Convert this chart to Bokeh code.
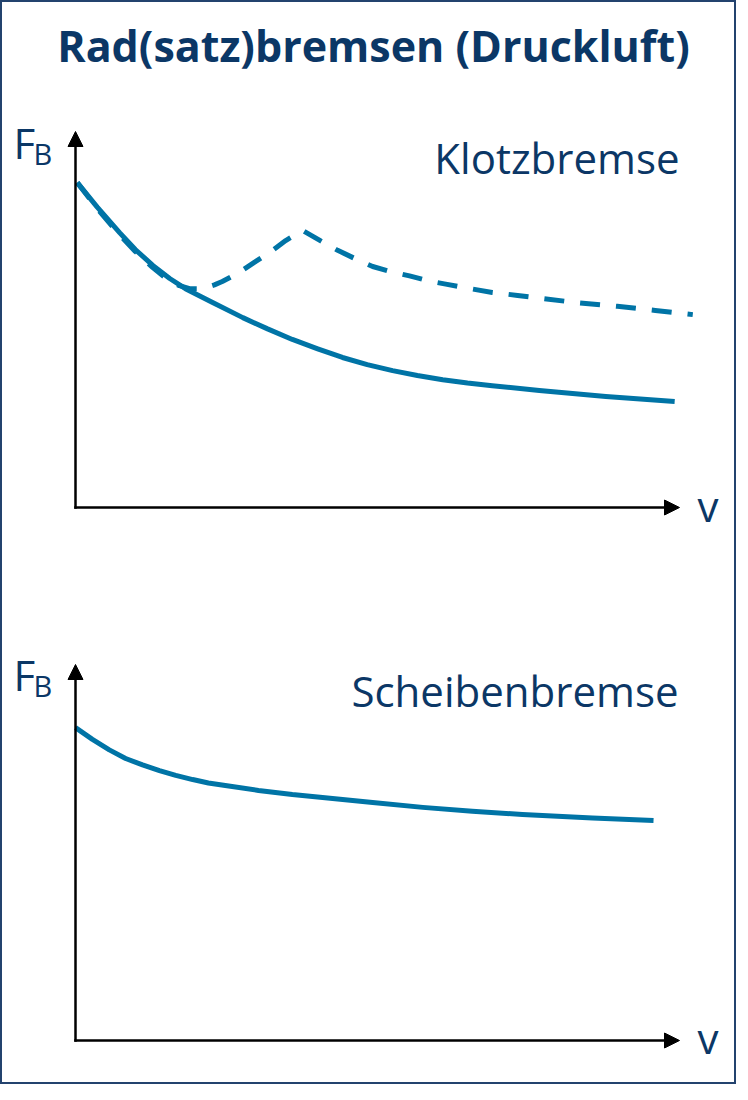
from bokeh.plotting import figure
from bokeh.models import Range1d, Arrow, NormalHead, Label
from bokeh.embed import file_html
from bokeh.resources import INLINE

# ---------------- data ----------------
TITLE = "Rad(satz)bremsen (Druckluft)"
Y_LABEL_MAIN = "F"
Y_LABEL_SUB = "B"
X_LABEL = "v"
PANEL1_NAME = "Klotzbremse"
PANEL2_NAME = "Scheibenbremse"

AXIS_MAX_V = 100
AXIS_MAX_F = 100

# Klotzbremse, solid curve
klotz_solid_v = [0.3, 3.6, 7.3, 9.9, 12.8, 15.6, 18.2, 22.7, 27.7, 31.8, 35.9, 40.1, 44.2,
                 48.3, 52.5, 56.6, 60.8, 64.9, 69.0, 76.8, 87.8, 99.2]
klotz_solid_F = [86.4, 79.9, 73.1, 68.6, 64.4, 60.9, 58.2, 54.5, 50.5, 47.5, 44.7, 42.2, 39.9,
                 38.0, 36.4, 35.1, 34.0, 33.1, 32.4, 31.1, 29.5, 28.2]

# Klotzbremse, dashed curve
klotz_dashed_v = [0.3, 3.6, 7.3, 9.9, 12.8, 15.6, 17.2, 18.9, 21.0, 23.0, 24.3, 27.0, 29.6, 32.3,
                  34.8, 37.6, 40.6, 43.4, 46.4, 49.2, 52.5, 55.3, 58.6, 61.3, 64.6, 69.0, 73.2,
                  77.3, 83.4, 89.7, 96.0, 102.2]
klotz_dashed_F = [86.4, 79.5, 72.5, 68.1, 63.8, 60.2, 59.0, 58.2, 58.2, 59.2, 60.1, 62.4, 65.2, 68.0,
                  71.0, 73.7, 70.9, 68.4, 66.1, 64.1, 62.6, 61.6, 60.2, 59.4, 58.4, 57.2, 56.4,
                  55.6, 54.4, 53.5, 52.4, 51.3]

# Scheibenbremse
scheibe_v = [0, 2.8, 5.6, 8.3, 11.1, 13.9, 16.6, 19.4, 22.0, 24.8, 30.3, 35.9, 40.9, 49.2,
             57.5, 65.7, 74.0, 85.6, 95.7]
scheibe_F = [83.2, 80.1, 77.3, 75.0, 73.3, 71.8, 70.5, 69.4, 68.5, 67.8, 66.5, 65.4, 64.6, 63.3,
             62.0, 61.0, 60.1, 59.2, 58.5]

# ---------------- layout ----------------
W, H = 736, 1084
PAGE = 8                 # page margin
ORIGIN_X = 75            # screen px of v = 0
PX_V = 6.04              # px per v unit
P1_ORIGIN_Y = 507        # screen px (from top) of F = 0, panel 1
P2_ORIGIN_Y = 1040       # screen px (from top) of F = 0, panel 2
PX_F = 3.76              # px per F unit
LABEL_DY = 18            # correction for text placement

NAVY = "#0b3766"
CURVE = "#0074a6"
FONT = "Open Sans"


def lx(page_x):
    return (page_x - PAGE - ORIGIN_X) / PX_V


def ly1(page_y):
    return (P1_ORIGIN_Y - (page_y - LABEL_DY - PAGE)) / PX_F


def ly2(page_y):
    return (P2_ORIGIN_Y - (page_y - LABEL_DY - PAGE)) / PX_F


p = figure(
    width=W, height=H,
    x_range=Range1d(-ORIGIN_X / PX_V, (W - ORIGIN_X) / PX_V),
    y_range=Range1d((P1_ORIGIN_Y - H) / PX_F, P1_ORIGIN_Y / PX_F),
    output_backend="svg", toolbar_location=None,
    x_axis_location=None, y_axis_location=None,
    min_border=0,
)
p.extra_y_ranges = {"p2": Range1d((P2_ORIGIN_Y - H) / PX_F, P2_ORIGIN_Y / PX_F)}
p.grid.visible = False
p.outline_line_color = "#23436e"
p.outline_line_width = 3
p.background_fill_color = "white"
p.border_fill_color = "white"

# axes with arrows
for rng in ("default", "p2"):
    p.add_layout(Arrow(x_start=0, y_start=0, x_end=AXIS_MAX_V, y_end=0,
                       line_width=2.5, line_color="black", line_cap="square",
                       end=NormalHead(size=15, fill_color="black", line_color="black", line_width=1),
                       y_range_name=rng))
    p.add_layout(Arrow(x_start=0, y_start=0, x_end=0, y_end=AXIS_MAX_F,
                       line_width=2.5, line_color="black", line_cap="square",
                       end=NormalHead(size=15, fill_color="black", line_color="black", line_width=1),
                       y_range_name=rng))

# curves
p.line(klotz_dashed_v, klotz_dashed_F, line_color=CURVE, line_width=5, line_dash="20 16")
p.line(klotz_solid_v, klotz_solid_F, line_color=CURVE, line_width=5, line_join="round")
p.line(scheibe_v, scheibe_F, line_color=CURVE, line_width=5, line_join="round", y_range_name="p2")

# texts
p.add_layout(Label(x=lx(381), y=ly1(71), text=TITLE, text_font=FONT, text_font_style="bold",
                   text_font_size="43px", text_color=NAVY, text_align="center", text_baseline="alphabetic"))

for rng, fy in (("default", ly1), ("p2", ly2)):
    off = 0 if rng == "default" else 532
    p.add_layout(Label(x=lx(21), y=fy(168 + off), text=Y_LABEL_MAIN, text_font=FONT, text_font_size="42px",
                       text_color=NAVY, text_align="left", text_baseline="alphabetic", y_range_name=rng))
    p.add_layout(Label(x=lx(41), y=fy(179 + off), text=Y_LABEL_SUB, text_font=FONT, text_font_size="29px",
                       text_color=NAVY, text_align="left", text_baseline="alphabetic", y_range_name=rng))
    p.add_layout(Label(x=lx(705), y=fy(531 + off), text=X_LABEL, text_font=FONT, text_font_size="42px",
                       text_color=NAVY, text_align="left", text_baseline="alphabetic", y_range_name=rng))

p.add_layout(Label(x=lx(687), y=ly1(183), text=PANEL1_NAME, text_font=FONT, text_font_size="42px",
                   text_color=NAVY, text_align="right", text_baseline="alphabetic"))
p.add_layout(Label(x=lx(686), y=ly2(716), text=PANEL2_NAME, text_font=FONT, text_font_size="42px",
                   text_color=NAVY, text_align="right", text_baseline="alphabetic", y_range_name="p2"))

open("out.html", "w").write(file_html(p, INLINE))
